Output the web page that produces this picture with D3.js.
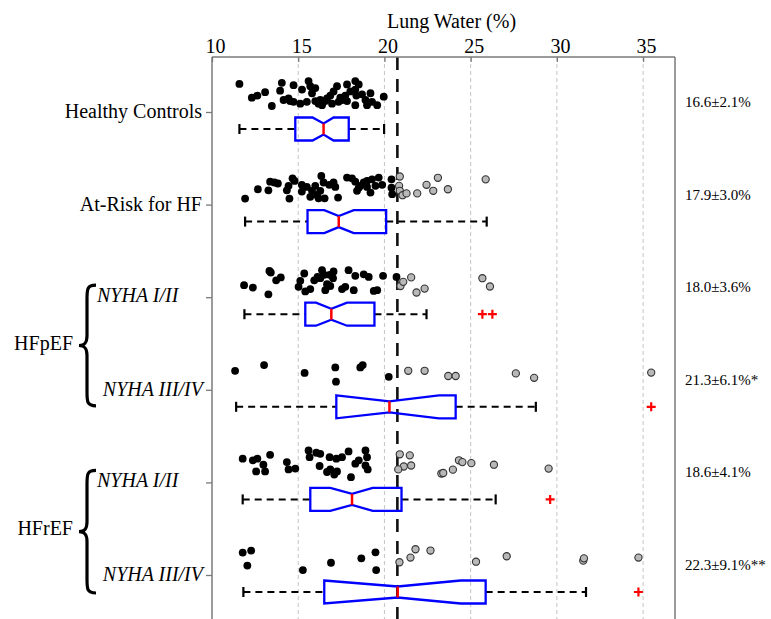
<!DOCTYPE html>
<html>
<head>
<meta charset="utf-8">
<script src="https://cdn.jsdelivr.net/npm/d3@7"></script>
<style>
  html, body { margin: 0; padding: 0; background: #fff; }
  svg { display: block; }
  text { font-family: "Liberation Serif", "Times New Roman", serif; fill: #000; }
</style>
</head>
<body>
<svg id="chart" width="771" height="619"></svg>
<script>
// ---------------- DATA ----------------
const categories = ["Healthy Controls", "At-Risk for HF", "HFpEF NYHA I/II", "HFpEF NYHA III/IV", "HFrEF NYHA I/II", "HFrEF NYHA III/IV"];
const xTicks = [10, 15, 20, 25, 30, 35];
const threshold = 20.75;

const whiskerLow  = [11.59, 11.92, 11.88, 11.40, 11.78, 11.82];
const q1          = [14.83, 15.54, 15.41, 17.21, 15.70, 16.51];
const median      = [16.47, 17.35, 16.92, 20.29, 18.12, 20.77];
const q3          = [17.93, 20.10, 19.42, 24.13, 20.99, 25.87];
const whiskerHigh = [19.98, 25.93, 22.44, 28.78, 26.45, 31.69];
const notchLow    = [15.83, 16.51, 16.03, 17.21, 16.86, 16.51];
const notchHigh   = [17.05, 18.22, 17.83, 23.16, 19.32, 24.42];
const outliers    = [[], [], [25.68, 26.26], [35.47], [29.61], [34.73]];
const summaries   = ["16.6\u00b12.1%", "17.9\u00b13.0%", "18.0\u00b13.6%", "21.3\u00b16.1%*", "18.6\u00b14.1%", "22.3\u00b19.1%**"];

// scatter points: [value, vertical jitter 0..1]
const ptsHealthy = [[11.59,0.15],[12.31,0.68],[12.63,0.6],[13.08,0.47],[13.47,1.0],[14.05,0.11],[13.95,0.41],[14.15,0.77],[14.44,0.71],[14.73,0.2],[14.73,0.84],[15.12,0.91],[15.22,0.37],[15.6,0.04],[15.7,0.24],[15.8,0.51],[15.99,0.31],[15.99,0.81],[16.28,0.77],[16.38,0.97],[16.67,0.71],[16.86,0.6],[17.05,0.44],[17.25,0.24],[17.34,0.84],[17.44,0.68],[17.73,0.6],[17.83,0.17],[17.83,0.81],[18.31,0.04],[18.31,0.37],[18.37,0.6],[18.31,0.97],[18.7,0.55],[18.9,0.77],[18.99,0.97],[19.19,0.51],[19.28,0.84],[19.58,0.97],[19.96,0.64],[14.53,0.81],[15.5,0.84],[16.18,0.91],[16.57,0.81],[16.96,0.91],[17.54,0.77],[18.02,0.44],[18.51,0.17]];
const ptsAtRisk = [[11.92,1.0],[12.66,0.64],[13.27,0.68],[13.37,0.35],[13.62,0.38],[13.82,0.42],[14.34,0.68],[14.44,0.51],[14.49,1.0],[14.67,0.22],[14.79,0.32],[15.21,0.47],[15.21,0.73],[15.5,0.55],[15.8,0.7],[15.99,0.51],[16.09,0.86],[16.18,0.99],[16.34,0.13],[16.47,0.38],[16.53,0.99],[16.8,0.47],[17.05,0.38],[17.15,0.55],[17.31,0.96],[17.83,0.19],[18.12,0.22],[18.31,0.35],[18.41,0.7],[18.6,0.51],[18.8,0.38],[18.99,0.32],[19.19,0.77],[19.28,0.26],[19.48,0.51],[19.67,0.19],[19.87,0.47],[15.7,0.93],[16.28,0.7],[18.51,0.58],[18.99,0.55],[20.41,0.26],[20.41,0.58],[20.45,0.83],[20.89,0.15],[20.85,0.51],[20.89,0.7],[21.05,0.87],[21.28,0.8],[21.9,0.8],[22.44,0.47],[22.83,0.7],[23.1,0.2],[23.68,0.64],[25.87,0.26]];
const ptsPEF12 = [[11.86,0.77],[12.37,0.86],[13.27,1.12],[13.33,0.22],[13.41,0.28],[13.72,0.58],[13.99,0.47],[15.02,0.83],[15.12,0.6],[15.35,0.32],[15.41,1.01],[15.7,0.92],[15.93,0.58],[16.12,0.45],[16.38,0.19],[16.51,0.37],[16.57,0.96],[16.67,0.73],[16.82,0.37],[16.86,0.8],[17.05,0.24],[17.02,0.5],[17.54,0.92],[17.73,0.83],[17.92,0.19],[18.22,0.96],[18.31,0.41],[18.8,0.35],[19.09,0.45],[19.38,0.99],[19.58,0.96],[19.92,0.41],[16.28,0.5],[20.7,0.45],[20.93,0.8],[21.09,0.64],[21.55,0.47],[21.86,1.05],[22.33,0.9],[25.68,0.5],[26.12,0.82]];
const ptsPEF34 = [[11.34,0.5],[13.02,0.28],[15.37,0.58],[17.15,0.37],[17.19,0.92],[18.6,0.37],[18.74,0.28],[20.25,0.73],[21.38,0.5],[22.33,0.5],[23.7,0.7],[24.13,0.7],[27.62,0.6],[28.68,0.77],[35.47,0.57]];
const ptsREF12 = [[11.78,0.32],[12.37,0.38],[12.63,0.32],[12.56,0.81],[12.98,0.55],[13.08,0.81],[13.37,0.17],[14.34,0.45],[14.44,0.73],[14.83,0.7],[15.6,0.0],[15.66,0.26],[16.05,0.09],[16.28,0.13],[16.24,0.6],[16.67,0.83],[16.82,0.26],[16.86,0.73],[17.21,0.32],[17.25,0.81],[17.54,0.26],[17.92,0.04],[18.06,1.03],[18.31,0.51],[18.51,0.38],[18.9,0.0],[18.99,0.26],[18.9,0.58],[19.03,0.73],[17.09,0.93],[20.89,0.15],[21.47,0.19],[21.12,0.62],[21.55,0.58],[20.8,0.73],[23.3,0.89],[23.41,0.87],[23.97,0.74],[24.32,0.38],[24.52,0.45],[25.04,0.49],[26.35,0.55],[29.52,0.7]];
const ptsREF34 = [[11.78,0.37],[12.27,0.29],[12.05,0.87],[15.27,1.04],[16.9,0.76],[18.66,0.59],[19.48,0.36],[19.52,1.04],[20.87,0.74],[21.51,0.56],[21.8,0.24],[22.67,0.29],[25.31,0.72],[27.09,0.51],[31.53,0.68],[31.57,0.59],[34.73,0.56]];
const points = [ptsHealthy, ptsAtRisk, ptsPEF12, ptsPEF34, ptsREF12, ptsREF34];

// ---------------- LAYOUT ----------------
const svg = d3.select("#chart");
const W = 771, H = 619;
const plotTop = 57, plotBottom = 619;
const x = d3.scaleLinear().domain([10, 36.85]).range([212, 675]);
const y = d3.scalePoint().domain(categories).range([112, 575]);

// grid lines
svg.append("g").selectAll("line").data(xTicks.filter(t => t > 10)).join("line")
  .attr("x1", d => x(d)).attr("x2", d => x(d))
  .attr("y1", plotTop).attr("y2", plotBottom)
  .attr("stroke", "#c4c4c4").attr("stroke-width", 1).attr("stroke-dasharray", "4,3");

// threshold line
svg.append("line")
  .attr("x1", x(threshold)).attr("x2", x(threshold))
  .attr("y1", plotTop).attr("y2", plotBottom)
  .attr("stroke", "#111").attr("stroke-width", 2.6).attr("stroke-dasharray", "13,9");

// top axis
const axTop = svg.append("g").attr("transform", `translate(0,${plotTop})`)
  .call(d3.axisTop(x).tickValues(xTicks).tickSize(-5).tickSizeOuter(0).tickPadding(4).tickFormat(d3.format("d")));
axTop.select(".domain").remove();
axTop.selectAll(".tick line").attr("stroke", "#7a7a7a").attr("stroke-width", 1.3);
axTop.selectAll(".tick text").attr("font-size", 20).attr("font-family", "Liberation Serif, Times New Roman, serif").attr("dx", 3);

// left axis ticks
const axLeft = svg.append("g").attr("transform", `translate(${x(10)},0)`)
  .call(d3.axisLeft(y).tickSize(6).tickSizeOuter(0).tickFormat(""));
axLeft.select(".domain").remove();
axLeft.selectAll(".tick line").attr("stroke", "#7a7a7a").attr("stroke-width", 1.3);

// frame
const frame = svg.append("g").attr("stroke", "#7a7a7a").attr("stroke-width", 1.5).attr("fill", "none");
frame.append("line").attr("x1", x.range()[0]).attr("x2", x.range()[1]).attr("y1", plotTop).attr("y2", plotTop);
frame.append("line").attr("x1", x.range()[0]).attr("x2", x.range()[0]).attr("y1", plotTop).attr("y2", plotBottom);
frame.append("line").attr("x1", x.range()[1]).attr("x2", x.range()[1]).attr("y1", plotTop).attr("y2", plotBottom);

// title
svg.append("text").attr("x", (x.range()[0] + x.range()[1]) / 2 + 8).attr("y", 28)
  .attr("text-anchor", "middle").attr("font-size", 20).text("Lung Water (%)");

// ---------------- BOXES ----------------
const boxOffset = 17, boxH = 23, inset = 6;
const gBox = svg.append("g");
categories.forEach((c, i) => {
  const cy = y(c) + boxOffset;
  const top = cy - boxH / 2, bot = cy + boxH / 2;
  // whiskers
  gBox.append("line").attr("x1", x(whiskerLow[i])).attr("x2", x(q1[i])).attr("y1", cy).attr("y2", cy)
    .attr("stroke", "#000").attr("stroke-width", 2).attr("stroke-dasharray", "7,5");
  gBox.append("line").attr("x1", x(q3[i])).attr("x2", x(whiskerHigh[i])).attr("y1", cy).attr("y2", cy)
    .attr("stroke", "#000").attr("stroke-width", 2).attr("stroke-dasharray", "7,5");
  [whiskerLow[i], whiskerHigh[i]].forEach(v => {
    gBox.append("line").attr("x1", x(v)).attr("x2", x(v)).attr("y1", cy - 5).attr("y2", cy + 5)
      .attr("stroke", "#000").attr("stroke-width", 2.2);
  });
  // notched box
  const p = d3.path();
  p.moveTo(x(q1[i]), top);
  p.lineTo(x(notchLow[i]), top);
  p.lineTo(x(median[i]), top + inset);
  p.lineTo(x(notchHigh[i]), top);
  p.lineTo(x(q3[i]), top);
  p.lineTo(x(q3[i]), bot);
  p.lineTo(x(notchHigh[i]), bot);
  p.lineTo(x(median[i]), bot - inset);
  p.lineTo(x(notchLow[i]), bot);
  p.lineTo(x(q1[i]), bot);
  p.closePath();
  gBox.append("path").attr("d", p.toString()).attr("fill", "none")
    .attr("stroke", "#0000ff").attr("stroke-width", 2.3).attr("stroke-linejoin", "miter");
  gBox.append("line").attr("x1", x(median[i])).attr("x2", x(median[i]))
    .attr("y1", top + inset).attr("y2", bot - inset)
    .attr("stroke", "#ff0000").attr("stroke-width", 2.5);
  // outliers
  outliers[i].forEach(v => {
    gBox.append("path").attr("d", `M${x(v) - 4.5},${cy}H${x(v) + 4.5}M${x(v)},${cy - 4.5}V${cy + 4.5}`)
      .attr("stroke", "#ff0000").attr("stroke-width", 2.2);
  });
});

// ---------------- POINTS ----------------
const jitTop = 32, jitSpan = 26;
categories.forEach((c, i) => {
  svg.append("g").selectAll("circle").data(points[i]).join("circle")
    .attr("cx", d => x(d[0]))
    .attr("cy", d => y(c) - jitTop + d[1] * jitSpan)
    .attr("r", d => d[0] > threshold ? 3.6 : 3.9)
    .attr("fill", d => d[0] > threshold ? "#b8b8b8" : "#000")
    .attr("stroke", d => d[0] > threshold ? "#333" : "none")
    .attr("stroke-width", 1.1);
});

// ---------------- LABELS ----------------
const lbl = svg.append("g").attr("font-size", 20);
lbl.append("text").attr("x", 202).attr("y", y(categories[0]) + 6).attr("text-anchor", "end").text("Healthy Controls");
lbl.append("text").attr("x", 202).attr("y", y(categories[1]) + 6).attr("text-anchor", "end").text("At-Risk for HF");
lbl.append("text").attr("x", 97).attr("y", y(categories[2]) + 5).attr("font-style", "italic").text("NYHA I/II");
lbl.append("text").attr("x", 203).attr("y", y(categories[3]) + 6).attr("text-anchor", "end").attr("font-style", "italic").text("NYHA III/IV");
lbl.append("text").attr("x", 97).attr("y", y(categories[4]) + 5).attr("font-style", "italic").text("NYHA I/II");
lbl.append("text").attr("x", 203).attr("y", y(categories[5]) + 6).attr("text-anchor", "end").attr("font-style", "italic").text("NYHA III/IV");

const groupMid = (a, b) => (y(categories[a]) + y(categories[b])) / 2;
lbl.append("text").attr("x", 73).attr("y", groupMid(2, 3) + 6).attr("text-anchor", "end").text("HFpEF");
lbl.append("text").attr("x", 73).attr("y", groupMid(4, 5) + 6).attr("text-anchor", "end").text("HFrEF");

function brace(top, bot) {
  const mid = (top + bot) / 2, xr = 96, xm = 87, xl = 79;
  return `M${xr},${top} C${xm},${top} ${xm},${top + 4} ${xm},${top + 14} L${xm},${mid - 10} C${xm},${mid - 3} ${xm - 2},${mid} ${xl},${mid}` +
         ` C${xm - 2},${mid} ${xm},${mid + 3} ${xm},${mid + 10} L${xm},${bot - 14} C${xm},${bot - 4} ${xm},${bot} ${xr},${bot}`;
}
svg.append("path").attr("d", brace(y(categories[2]) - 12, y(categories[3]) + 16))
  .attr("fill", "none").attr("stroke", "#000").attr("stroke-width", 3.2);
svg.append("path").attr("d", brace(y(categories[4]) - 12, y(categories[5]) + 18))
  .attr("fill", "none").attr("stroke", "#000").attr("stroke-width", 3.2);

// right summaries
svg.append("g").attr("font-size", 15).selectAll("text").data(categories).join("text")
  .attr("x", 685).attr("y", d => y(d) - 5)
  .text((d, i) => summaries[i]);
</script>
</body>
</html>
